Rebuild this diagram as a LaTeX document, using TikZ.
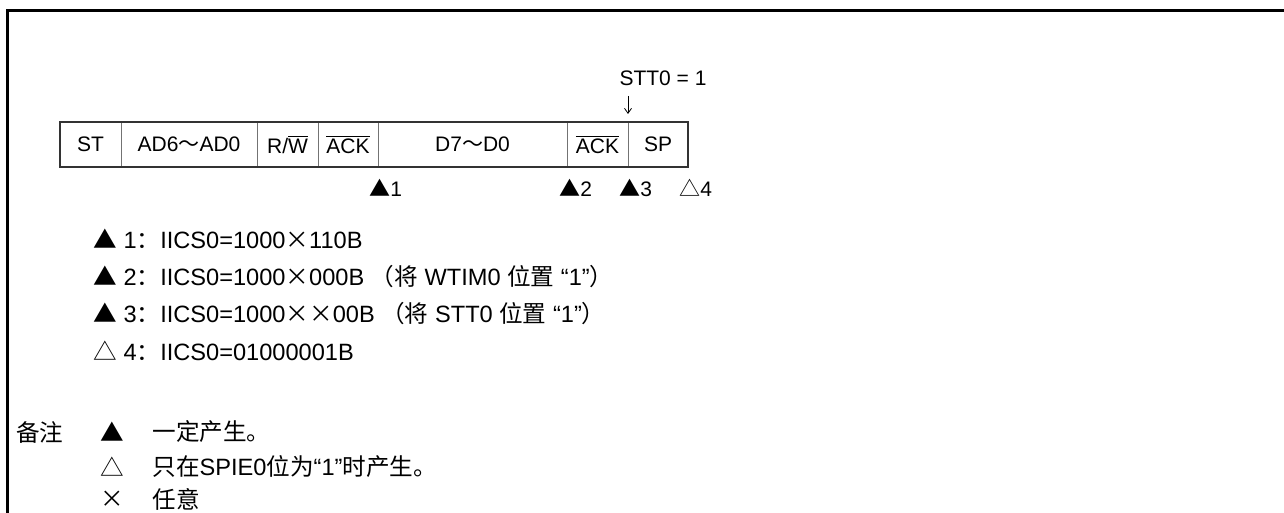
\documentclass[tikz,border=0pt]{standalone}
\usepackage{fontspec}
\setmainfont{Liberation Sans}
\newfontfamily\cjk{Noto Sans CJK SC}
\usetikzlibrary{arrows.meta,positioning}

\begin{document}
\begin{tikzpicture}[x=0.5pt, y=-0.5pt,
  cell/.style={draw=black!55, line width=0.5pt, minimum height=22.5pt, inner sep=0pt, outer sep=0pt, font=\fontsize{10.5}{12}\selectfont},
  marker/.style={anchor=west, inner sep=0pt, font=\fontsize{10.5}{12}\selectfont},
  legend/.style={anchor=west, inner sep=0pt, font=\fontsize{11.8}{14}\selectfont},
  node distance=0pt]
\useasboundingbox (0,0) rectangle (1284,513);
% frame
\draw[line width=1.5pt] (7.5,513) -- (7.5,10.5) -- (1284,10.5);

% transfer frame
\node[cell, minimum width=30.5pt, anchor=west] (st) at (60,144.5) {ST};
\node[cell, minimum width=68pt, right=of st] (addr) {AD6{\cjk ～}AD0};
\node[cell, minimum width=30.5pt, right=of addr] (rw) {R/$\overline{\mbox{W}}$};
\node[cell, minimum width=30pt, right=of rw] (acka) {$\overline{\mbox{ACK}}$};
\node[cell, minimum width=94.5pt, right=of acka] (data) {D7{\cjk ～}D0};
\node[cell, minimum width=30.5pt, right=of data] (ackb) {$\overline{\mbox{ACK}}$};
\node[cell, minimum width=30pt, right=of ackb] (sp) {SP};
\draw[line width=1.1pt, black!80] (st.north west) rectangle (sp.south east);

% STT0 = 1
\node[marker, anchor=center] (stt) at (663,78) {STT0 = 1};
\coordinate (go) at (628,96);
\coordinate (tip) at (628,114);
\draw[-{Straight Barb[length=2.5pt,width=3.5pt]}, line width=0.4pt] (go) -- (tip);

% interrupt points
\node[marker] (p1) at (369,188) {{\cjk ▲}1};
\node[marker] (p2) at (559,188) {{\cjk ▲}2};
\node[marker] (p3) at (619,188) {{\cjk ▲}3};
\node[marker] (p4) at (679,188) {{\cjk △}4};

% legend
\node[legend] (l1) at (93,239) {{\cjk ▲} 1{\cjk ：}IICS0=1000{\cjk ×}110B};
\node[legend] (l2) at (93,277) {{\cjk ▲} 2{\cjk ：}IICS0=1000{\cjk ×}000B {\cjk （将} WTIM0 {\cjk 位置} “1”{\cjk ）}};
\node[legend] (l3) at (93,314) {{\cjk ▲} 3{\cjk ：}IICS0=1000{\cjk ××}00B {\cjk （将} STT0 {\cjk 位置} “1”{\cjk ）}};
\node[legend] (l4) at (93,351) {{\cjk △} 4{\cjk ：}IICS0=01000001B};

% remarks
\node[legend] (rem) at (16,432) {\cjk 备注};
\node[legend] (r1) at (100,432) {\cjk ▲};
\node[legend] (t1) at (152,432) {\cjk 一定产生。};
\node[legend] (r2) at (100,467) {\cjk △};
\node[legend] (t2) at (152,467) {{\cjk 只在}SPIE0{\cjk 位为}“1”{\cjk 时产生。}};
\node[legend] (r3) at (100,499) {\cjk ×};
\node[legend] (t3) at (152,499) {\cjk 任意};
\end{tikzpicture}
\end{document}
